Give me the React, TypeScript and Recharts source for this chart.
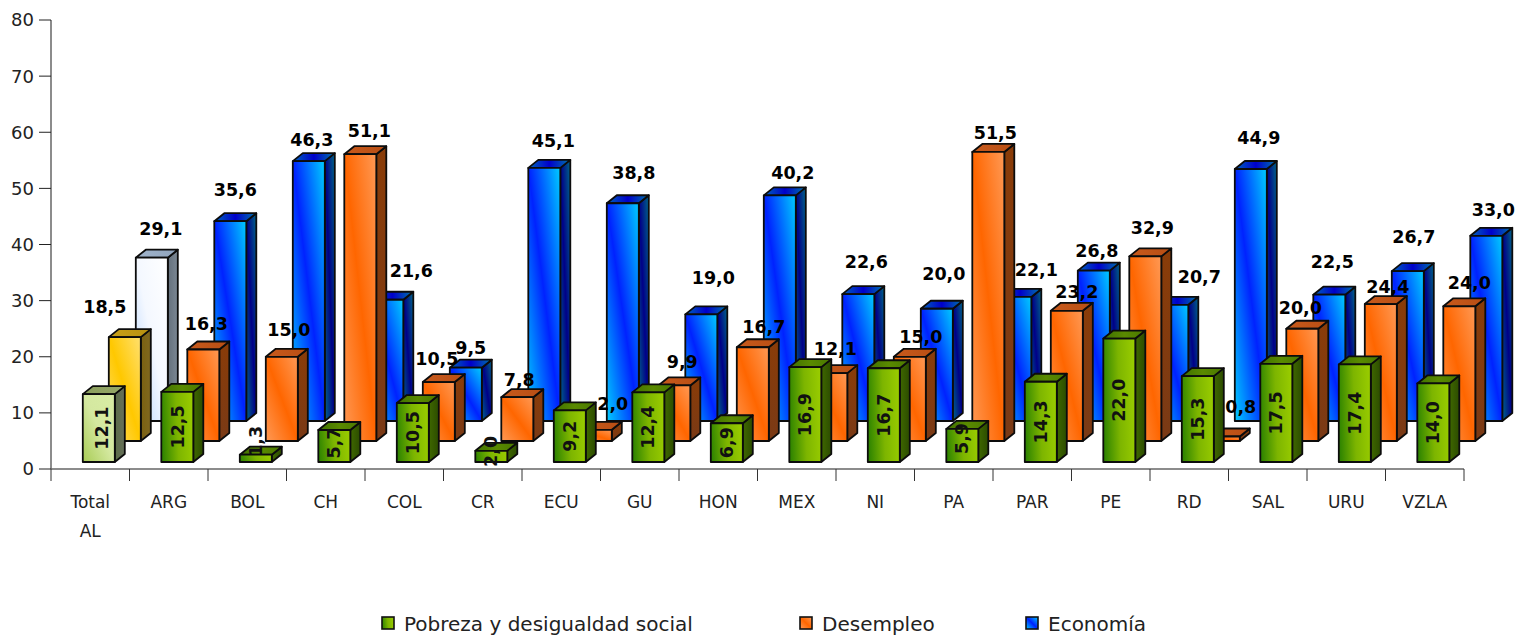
import React from 'react';
import { BarChart, Bar, XAxis, YAxis, Legend, LabelList } from 'recharts';

const CATEGORIES = ['Total AL', 'ARG', 'BOL', 'CH', 'COL', 'CR', 'ECU', 'GU', 'HON', 'MEX', 'NI', 'PA', 'PAR', 'PE', 'RD', 'SAL', 'URU', 'VZLA'];
const POBREZA = [12.1, 12.5, 1.3, 5.7, 10.5, 2.0, 9.2, 12.4, 6.9, 16.9, 16.7, 5.9, 14.3, 22.0, 15.3, 17.5, 17.4, 14.0];
const DESEMPLEO = [18.5, 16.3, 15.0, 51.1, 10.5, 7.8, 2.0, 9.9, 16.7, 12.1, 15.0, 51.5, 23.2, 32.9, 0.8, 20.0, 24.4, 24.0];
const ECONOMIA = [29.1, 35.6, 46.3, 21.6, 9.5, 45.1, 38.8, 19.0, 40.2, 22.6, 20.0, 22.1, 26.8, 20.7, 44.9, 22.5, 26.7, 33.0];
const Y_TICKS = [0, 10, 20, 30, 40, 50, 60, 70, 80];
const SERIES_NAMES = ['Pobreza y desigualdad social', 'Desempleo', 'Economía'];

const chartData = CATEGORIES.map((name, i) => ({
  name,
  pobreza: POBREZA[i],
  desempleo: DESEMPLEO[i],
  economia: ECONOMIA[i],
}));

// hand placed labels in the original, [dx, dy] from the top centre of the bar
const POBREZA_NUDGE = [[3, 0], [1, 0], [0, -17], [0, -3], [0, 0], [0, -5], [0, 0], [0, 0], [0, 0], [0, 0], [0, 0], [0, -7], [0, 0], [0, 0], [0, 0], [0, 0], [0, 0], [0, 0]];
const DESEMPLEO_NUDGE = [[-20, -30], [3, -26], [7, -27], [9, -23], [-2, -23], [2, -17], [17, -26], [8, -23], [11, -20], [4, -24], [11, -20], [7, -19], [10, -19], [7, -28], [17, -30], [-2, -21], [7, -17], [10, -23]];
const ECONOMIA_NUDGE = [[9, -29], [5, -31], [3, -21], [24, -29], [5, -20], [9, -27], [11, -30], [12, -36], [13, -22], [8, -32], [7, -35], [21, -27], [3, -20], [27, -28], [8, -31], [3, -33], [6, -34], [7, -26]];

const FONT = '"DejaVu Sans", sans-serif';
const BAR_WIDTH = 32;
const DEPTH_X = 10;
const DEPTH_Y = 8;
const BAND = 78.5;

// series sit on three floors of the fake 3D scene
const LAYOUT = {
  pobreza: { dx: 8.8, dy: -7, face: 'green', total: 'pale' },
  desempleo: { dx: 34.8, dy: -28, face: 'orange', total: 'yellow' },
  economia: { dx: 61.8, dy: -48, face: 'blue', total: 'white' },
};

const Stops = ({ id, colors, x1 = 0, y1 = 1, x2 = 1, y2 = 0 }: any) => (
  <linearGradient id={id} x1={x1} y1={y1} x2={x2} y2={y2}>
    {colors.map((c: string, i: number) => (
      <stop key={i} offset={i / (colors.length - 1)} stopColor={c} />
    ))}
  </linearGradient>
);

const Box3D = (props: any) => {
  const { x, y, width, height, index, seriesKey } = props;
  const cfg = LAYOUT[seriesKey];
  const skin = index === 0 ? cfg.total : cfg.face;
  const common = { stroke: '#0c0c0c', strokeWidth: 1.8, strokeLinejoin: 'round' as const };
  return (
    <g transform={`translate(${cfg.dx},${cfg.dy})`}>
      <polygon
        points={`${x + width},${y} ${x + width + DEPTH_X},${y - DEPTH_Y} ${x + width + DEPTH_X},${y + height - DEPTH_Y} ${x + width},${y + height}`}
        fill={`url(#side-${skin})`}
        {...common}
      />
      <polygon
        points={`${x},${y} ${x + DEPTH_X},${y - DEPTH_Y} ${x + width + DEPTH_X},${y - DEPTH_Y} ${x + width},${y}`}
        fill={`url(#top-${skin})`}
        {...common}
      />
      <rect x={x} y={y} width={width} height={height} fill={`url(#face-${skin})`} {...common} />
    </g>
  );
};

const fmt = (v: number) => v.toFixed(1).replace('.', ',');

const TopLabel = (props: any) => {
  const { x, y, width, value, index, seriesKey, nudge } = props;
  const cfg = LAYOUT[seriesKey];
  const [nx, ny] = nudge[index];
  return (
    <text
      x={x + width / 2 + cfg.dx + nx}
      y={y + cfg.dy + ny}
      textAnchor="middle"
      dominantBaseline="central"
      fontFamily={FONT}
      fontWeight="bold"
      fontSize={17.5}
      fill="#000"
    >
      {fmt(value)}
    </text>
  );
};

const InsideLabel = (props: any) => {
  const { x, y, width, height, value, index, nudge } = props;
  const cfg = LAYOUT.pobreza;
  const [nx, ny] = nudge[index];
  const cx = x + width / 2 + cfg.dx + nx;
  const cy = y + height / 2 + cfg.dy + ny;
  return (
    <text
      x={cx}
      y={cy}
      transform={`rotate(-90 ${cx} ${cy})`}
      textAnchor="middle"
      dominantBaseline="central"
      fontFamily={FONT}
      fontWeight="bold"
      fontSize={17.5}
      fill="#111"
    >
      {fmt(value)}
    </text>
  );
};

const CategoryTick = (props: any) => {
  const { x, y, payload, index } = props;
  const words = String(payload.value).split(' ');
  const last = index === CATEGORIES.length - 1;
  return (
    <g>
      <line x1={x - BAND / 2} x2={x - BAND / 2} y1={y} y2={y + 12} stroke="#333" />
      {last && <line x1={x + BAND / 2} x2={x + BAND / 2} y1={y} y2={y + 12} stroke="#333" />}
      {words.map((w, i) => (
        <text key={w} x={x} y={y + 39 + i * 29} textAnchor="middle" fontFamily={FONT} fontSize={17} fill="#222">
          {w}
        </text>
      ))}
    </g>
  );
};

const LEGEND_LEFT = [381, 799, 1025];

const LegendBoxes = ({ payload }: any) => (
  <div style={{ position: 'relative', width: 1515, height: 40, fontFamily: FONT, fontSize: 20, color: '#222' }}>
    {SERIES_NAMES.map((name, i) => {
      const entry = (payload || []).find((p: any) => p.value === name);
      return (
        <React.Fragment key={name}>
          <svg width={15} height={15} style={{ position: 'absolute', left: LEGEND_LEFT[i], top: 21 }}>
            <rect x={1} y={1} width={12} height={12} fill={entry?.color} stroke="#111" strokeWidth={1.6} />
          </svg>
          <span style={{ position: 'absolute', left: LEGEND_LEFT[i] + 23, top: 17, whiteSpace: 'nowrap' }}>{name}</span>
        </React.Fragment>
      );
    })}
  </div>
);

export default function App() {
  return (
    <div style={{ position: 'absolute', left: 0, top: 0, width: 1515, height: 635, overflow: 'hidden', background: '#fff' }}>
      <BarChart width={1515} height={635} data={chartData} margin={{ top: 20, right: 51, left: 0, bottom: 46 }} barSize={BAR_WIDTH}>
        <defs>
          <Stops id="face-green" colors={['#2f8400', '#7db500', '#99cc00']} x1={0} y1={0.55} x2={1} y2={0.45} />
          <Stops id="top-green" colors={['#3f7000', '#5a8a00', '#4a7800']} x1={0} y1={0} x2={1} y2={0} />
          <Stops id="side-green" colors={['#3f6800', '#2c4c00']} x1={0} y1={0} x2={1} y2={0} />
          <Stops id="face-orange" colors={['#ff9955', '#ff6600', '#ff9955']} />
          <Stops id="top-orange" colors={['#c85a1c', '#b84e14']} x1={0} y1={0} x2={1} y2={0} />
          <Stops id="side-orange" colors={['#8a3c08', '#7a3a16']} x1={0} y1={0} x2={0} y2={1} />
          <Stops id="face-blue" colors={['#00ccff', '#0022ff', '#00ccff']} />
          <Stops id="top-blue" colors={['#0066bb', '#0000cc', '#0077aa']} x1={0} y1={0} x2={1} y2={0} />
          <Stops id="side-blue" colors={['#006688', '#000088', '#006688']} x1={0} y1={1} x2={1} y2={0} />
          <Stops id="face-pale" colors={['#a8cc55', '#d4e8a0', '#d8eca4']} />
          <Stops id="top-pale" colors={['#8a9e5c', '#96a868']} x1={0} y1={0} x2={1} y2={0} />
          <Stops id="side-pale" colors={['#5c6c48', '#66705a']} x1={0} y1={0} x2={1} y2={0} />
          <Stops id="face-yellow" colors={['#ffe070', '#ffc800', '#ffe070']} />
          <Stops id="top-yellow" colors={['#c8a018', '#b89010']} x1={0} y1={0} x2={1} y2={0} />
          <Stops id="side-yellow" colors={['#7a6010', '#806820']} x1={0} y1={0} x2={1} y2={0} />
          <Stops id="face-white" colors={['#b4d4ff', '#f4f8ff', '#ffffff']} />
          <Stops id="top-white" colors={['#a0b4cc', '#90a4bc']} x1={0} y1={0} x2={1} y2={0} />
          <Stops id="side-white" colors={['#64707c', '#7c8894']} x1={0} y1={0} x2={1} y2={0} />
        </defs>
        <XAxis
          xAxisId="main"
          dataKey="name"
          interval={0}
          height={80}
          tickLine={false}
          tickSize={0}
          tickMargin={0}
          axisLine={{ stroke: '#666', strokeWidth: 1.5 }}
          tick={<CategoryTick />}
        />
        <XAxis xAxisId="mid" dataKey="name" hide height={0} />
        <XAxis xAxisId="back" dataKey="name" hide height={0} />
        <YAxis
          width={51}
          domain={[0, 80]}
          ticks={Y_TICKS}
          tickSize={12}
          tickMargin={5}
          axisLine={{ stroke: '#666', strokeWidth: 1.5 }}
          tickLine={{ stroke: '#222' }}
          tick={{ fontFamily: FONT, fontSize: 18, fill: '#222' }}
        />
        <Legend content={<LegendBoxes />} wrapperStyle={{ left: 0, bottom: 0, width: 1515 }} />
        <Bar
          xAxisId="back"
          dataKey="economia"
          name="Economía"
          fill="url(#face-blue)"
          isAnimationActive={false}
          shape={(p: any) => <Box3D {...p} seriesKey="economia" />}
        >
          <LabelList dataKey="economia" content={(p: any) => <TopLabel {...p} seriesKey="economia" nudge={ECONOMIA_NUDGE} />} />
        </Bar>
        <Bar
          xAxisId="mid"
          dataKey="desempleo"
          name="Desempleo"
          fill="url(#face-orange)"
          isAnimationActive={false}
          shape={(p: any) => <Box3D {...p} seriesKey="desempleo" />}
        >
          <LabelList dataKey="desempleo" content={(p: any) => <TopLabel {...p} seriesKey="desempleo" nudge={DESEMPLEO_NUDGE} />} />
        </Bar>
        <Bar
          xAxisId="main"
          dataKey="pobreza"
          name="Pobreza y desigualdad social"
          fill="url(#face-green)"
          isAnimationActive={false}
          shape={(p: any) => <Box3D {...p} seriesKey="pobreza" />}
        >
          <LabelList dataKey="pobreza" content={(p: any) => <InsideLabel {...p} nudge={POBREZA_NUDGE} />} />
        </Bar>
      </BarChart>
    </div>
  );
}
